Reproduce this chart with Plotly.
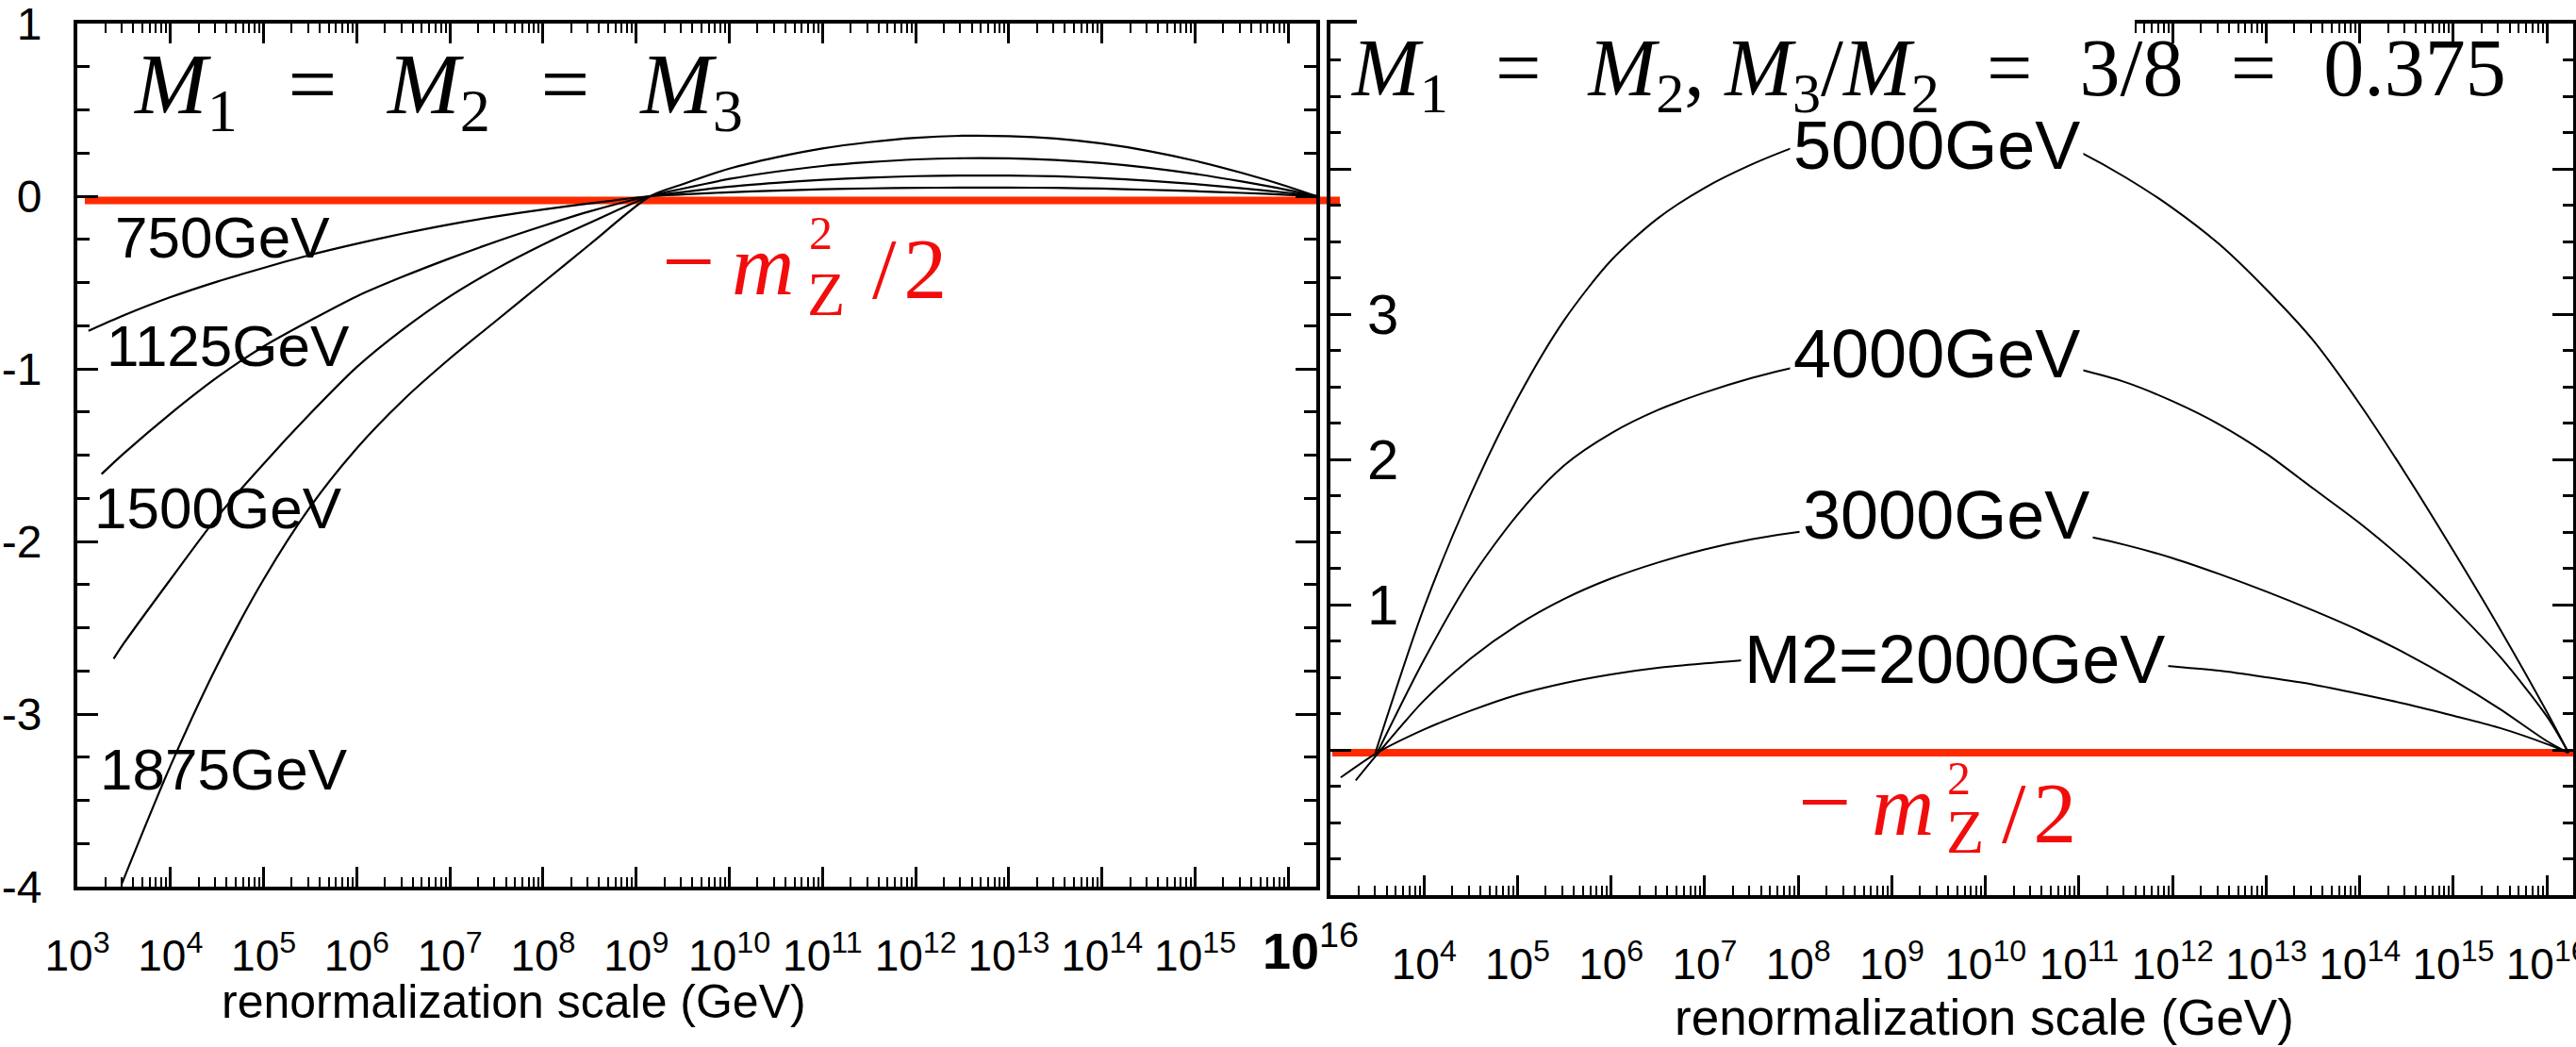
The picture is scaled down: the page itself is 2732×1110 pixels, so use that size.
import plotly.graph_objects as go

W, H = 2732, 1110

# ---------------- data ----------------
# Left panel: M1 = M2 = M3. x = log10(Q / GeV), y = running parameter
left_names = ["750GeV", "1125GeV", "1500GeV", "1875GeV"]

logq_750 = [3.12, 3.5, 4.0, 4.5, 5.0, 5.5, 6.0, 6.5, 7.0, 7.5, 8.0, 8.5, 9.15,
            9.5, 10.0, 10.5, 11.0, 11.5, 12.0, 12.5, 13.0, 13.5, 14.0, 14.5, 15.0, 15.5, 16.0, 16.3]
val_750 = [-0.78, -0.69, -0.585, -0.495, -0.415, -0.34, -0.275, -0.216, -0.163, -0.117, -0.077, -0.042, 0.0,
           0.010, 0.023, 0.032, 0.040, 0.045, 0.048, 0.050, 0.050, 0.048, 0.044, 0.037, 0.029, 0.019, 0.008, 0.0]

logq_1125 = [3.26, 3.5, 4.0, 4.5, 5.0, 5.5, 6.0, 6.5, 7.0, 7.5, 8.0, 8.5, 9.15,
             9.5, 10.0, 10.5, 11.0, 11.5, 12.0, 12.5, 13.0, 13.5, 14.0, 14.5, 15.0, 15.5, 16.0, 16.3]
val_1125 = [-1.61, -1.49, -1.26, -1.05, -0.87, -0.72, -0.58, -0.465, -0.36, -0.262, -0.172, -0.088, 0.0,
            0.024, 0.055, 0.077, 0.095, 0.107, 0.116, 0.120, 0.119, 0.115, 0.105, 0.090, 0.070, 0.046, 0.019, 0.0]

logq_1500 = [3.39, 3.5, 4.0, 4.5, 5.0, 5.5, 6.0, 6.5, 7.0, 7.5, 8.0, 8.5, 9.15,
             9.5, 10.0, 10.5, 11.0, 11.5, 12.0, 12.5, 13.0, 13.5, 14.0, 14.5, 15.0, 15.5, 16.0, 16.3]
val_1500 = [-2.68, -2.59, -2.22, -1.86, -1.55, -1.26, -0.99, -0.77, -0.58, -0.42, -0.28, -0.155, 0.0,
            0.044, 0.100, 0.142, 0.175, 0.197, 0.213, 0.220, 0.219, 0.210, 0.192, 0.165, 0.129, 0.085, 0.035, 0.0]

logq_1875 = [3.48, 4.0, 4.5, 5.0, 5.5, 6.0, 6.5, 7.0, 7.5, 8.0, 8.5, 9.15,
             9.5, 10.0, 10.5, 11.0, 11.5, 12.0, 12.5, 13.0, 13.5, 14.0, 14.5, 15.0, 15.5, 16.0, 16.3]
val_1875 = [-3.98, -3.30, -2.72, -2.22, -1.80, -1.46, -1.18, -0.94, -0.72, -0.50, -0.28, 0.0,
            0.070, 0.160, 0.225, 0.277, 0.313, 0.338, 0.350, 0.348, 0.334, 0.305, 0.262, 0.205, 0.135, 0.055, 0.0]

# Right panel: M1 = M2, M3/M2 = 0.375
right_names = ["M2=2000GeV", "3000GeV", "4000GeV", "5000GeV"]

logq_2000 = [3.11, 3.5, 4.0, 4.5, 5.0, 5.5, 6.0, 6.5, 7.0, 7.5, 8.0, 8.5, 9.0, 9.5, 10.0,
             10.5, 11.0, 11.5, 12.0, 12.5, 13.0, 13.5, 14.0, 14.5, 15.0, 15.5, 16.0, 16.23]
val_2000 = [-0.19, -0.02, 0.14, 0.27, 0.38, 0.46, 0.52, 0.565, 0.595, 0.62, 0.635, 0.645, 0.65, 0.65, 0.645,
            0.635, 0.62, 0.60, 0.575, 0.545, 0.50, 0.45, 0.385, 0.315, 0.235, 0.15, 0.04, -0.02]

logq_3000 = [3.27, 3.5, 4.0, 4.5, 5.0, 5.5, 6.0, 6.5, 7.0, 7.5, 8.0, 8.5, 9.0, 9.5, 10.0,
             10.5, 11.0, 11.5, 12.0, 12.5, 13.0, 13.5, 14.0, 14.5, 15.0, 15.5, 16.0, 16.23]
val_3000 = [-0.21, -0.03, 0.34, 0.63, 0.86, 1.04, 1.18, 1.29, 1.38, 1.45, 1.50, 1.53, 1.55, 1.555, 1.55,
            1.52, 1.48, 1.41, 1.32, 1.21, 1.09, 0.96, 0.82, 0.66, 0.48, 0.28, 0.06, -0.02]

logq_4000 = [3.5, 4.0, 4.5, 5.0, 5.5, 6.0, 6.5, 7.0, 7.5, 8.0, 8.5, 9.0, 9.5, 10.0,
             10.5, 11.0, 11.5, 12.0, 12.5, 13.0, 13.5, 14.0, 14.5, 15.0, 15.5, 16.0, 16.23]
val_4000 = [-0.02, 0.62, 1.18, 1.62, 1.96, 2.18, 2.34, 2.46, 2.56, 2.64, 2.70, 2.74, 2.75, 2.73,
            2.69, 2.62, 2.53, 2.40, 2.24, 2.04, 1.80, 1.56, 1.29, 0.98, 0.64, 0.23, -0.02]

logq_5000 = [3.48, 4.0, 4.5, 5.0, 5.5, 6.0, 6.5, 7.0, 7.5, 8.0, 8.5, 9.0, 9.5, 10.0,
             10.5, 11.0, 11.5, 12.0, 12.5, 13.0, 13.5, 14.0, 14.5, 15.0, 15.5, 16.0, 16.23]
val_5000 = [-0.02, 0.98, 1.76, 2.42, 2.96, 3.37, 3.66, 3.87, 4.03, 4.16, 4.27, 4.36, 4.41, 4.38,
            4.27, 4.12, 3.94, 3.73, 3.48, 3.17, 2.82, 2.38, 1.89, 1.37, 0.83, 0.26, -0.02]

# -m_Z^2/2 reference level
mz_level_left = -0.025
mz_level_right = -0.02

# tick labels
decades = list(range(3, 17))
left_xtick_text = [f"10<sup>{k}</sup>" for k in range(3, 16)] + [""]
right_xtick_text = [""] + [f"10<sup>{k}</sup>" for k in range(4, 17)]
left_yticks = [-4, -3, -2, -1, 0, 1]
left_ytick_text = ["-4", "-3", "-2", "-1", "0", "1"]
right_yticks = [-1, 0, 1, 2, 3, 4, 5]
right_ytick_text = ["", "", "1", "2", "3", "", ""]

# ---------------- helpers ----------------
def fx(p):
    return p / W


def fy(p):
    return 1 - p / H


SANS = "Liberation Sans, Arial, sans-serif"
SERIF = "Liberation Serif, Times New Roman, serif"
RED_LINE = "#ff2a00"
RED_TEXT = "#f20d0d"

fig = go.Figure()

left_sets = [(logq_750, val_750), (logq_1125, val_1125), (logq_1500, val_1500), (logq_1875, val_1875)]
for name, (lq, v) in zip(left_names, left_sets):
    fig.add_trace(go.Scatter(
        x=[10 ** q for q in lq], y=v, mode="lines", name=name,
        line=dict(color="black", width=2.2, shape="spline", smoothing=0.8),
        xaxis="x", yaxis="y", showlegend=False, hoverinfo="skip"))

right_sets = [(logq_2000, val_2000), (logq_3000, val_3000), (logq_4000, val_4000), (logq_5000, val_5000)]
for name, (lq, v) in zip(right_names, right_sets):
    fig.add_trace(go.Scatter(
        x=[10 ** q for q in lq], y=v, mode="lines", name=name,
        line=dict(color="black", width=2.0, shape="spline", smoothing=0.8),
        xaxis="x2", yaxis="y2", showlegend=False, hoverinfo="skip"))

# minor ticks at 2..9 x 10^n
minor_vals = [m * 10 ** n for n in range(3, 17) for m in range(2, 10)]

common_axis = dict(showline=True, linewidth=4, linecolor="black", mirror="allticks",
                   ticks="inside", tickcolor="black", tickwidth=3, showgrid=False,
                   zeroline=False, automargin=False, ticklabeloverflow="allow")

xaxis_common = dict(common_axis, type="log", tickvals=[10 ** k for k in decades], ticklen=21,
                    tickfont=dict(family=SANS, size=46, color="black"),
                    minor=dict(tickvals=minor_vals, ticks="inside", ticklen=10, tickwidth=2,
                               tickcolor="black", showgrid=False),
                    ticklabelstandoff=30)

fig.update_layout(
    template="none",
    width=W, height=H,
    margin=dict(l=0, r=0, t=0, b=0, pad=0),
    paper_bgcolor="white", plot_bgcolor="white",
    xaxis=dict(xaxis_common, domain=[fx(82), fx(1396)], range=[3, 16.3],
               ticktext=left_xtick_text, anchor="y"),
    yaxis=dict(common_axis, domain=[fy(940), fy(25)], range=[-4, 1], anchor="x",
               tickvals=left_yticks, ticktext=left_ytick_text, ticklen=22,
               tickfont=dict(family=SANS, size=48, color="black"),
               minor=dict(dtick=0.25, ticks="inside", ticklen=13, tickwidth=2.5,
                          tickcolor="black", showgrid=False),
               ticklabelstandoff=24),
    xaxis2=dict(xaxis_common, domain=[fx(1411), fx(2729)], range=[3, 16.28],
                ticktext=right_xtick_text, anchor="y2"),
    yaxis2=dict(common_axis, domain=[fy(949), fy(25)], range=[-1, 5], anchor="x2",
                tickvals=right_yticks, ticktext=right_ytick_text, ticklen=22,
                ticklabelposition="inside",
                tickfont=dict(family=SANS, size=60, color="black"),
                minor=dict(dtick=0.25, ticks="inside", ticklen=11, tickwidth=2.5,
                           tickcolor="black", showgrid=False),
                ticklabelstandoff=26),
)

# -m_Z^2/2 reference lines
fig.add_shape(type="line", xref="paper", yref="y", x0=fx(90), x1=fx(1421),
              y0=mz_level_left, y1=mz_level_left, line=dict(color=RED_LINE, width=8),
              layer="below")
fig.add_shape(type="line", xref="paper", yref="y2", x0=fx(1413), x1=1.0,
              y0=mz_level_right, y1=mz_level_right, line=dict(color=RED_LINE, width=8),
              layer="below")

# white box behind the right-hand heading
fig.add_shape(type="rect", xref="paper", yref="paper", x0=fx(1439), x1=fx(2264),
              y0=fy(58), y1=fy(8), fillcolor="white", line=dict(width=0), layer="above")


def note(text, x, y, size, family, color="black", xanchor="center", yanchor="middle", **kw):
    fig.add_annotation(text=text, x=fx(x), y=fy(y), xref="paper", yref="paper",
                       showarrow=False, xanchor=xanchor, yanchor=yanchor,
                       font=dict(family=family, size=size, color=color), **kw)


# curve labels, left panel
for name, (x, y) in zip(left_names, [(236, 251), (242, 367), (231, 539), (237, 815)]):
    note(name, x, y, 62, SANS)

# curve labels, right panel (white background breaks the curve)
for name, (x, y) in zip(right_names, [(2073, 699), (2064, 546), (2054, 375), (2054, 154)]):
    note(name, x, y, 72, SANS, bgcolor="white", borderpad=3)

# -m_Z^2/2 labels
red_parts_left = dict(minus=(730, 277), m=(809, 281), sup=(870, 247), sub=(876, 311), tail=(964, 285))
red_parts_right = dict(minus=(1935, 850), m=(2018, 854), sup=(2077, 825), sub=(2084, 881), tail=(2162, 862))
for parts in (red_parts_left, red_parts_right):
    note("\u2212", *parts["minus"], 100, SERIF, color=RED_TEXT)
    note("<i>m</i>", *parts["m"], 92, SERIF, color=RED_TEXT)
    note("2", *parts["sup"], 50, SERIF, color=RED_TEXT)
    note("Z", *parts["sub"], 66, SERIF, color=RED_TEXT)
    note("/\u200a2", *parts["tail"], 92, SERIF, color=RED_TEXT)

# axis titles
note("renormalization scale (GeV)", 545, 1062, 50, SANS)
note("renormalization scale (GeV)", 2104, 1078, 53, SANS)

# end-of-axis label between the panels
note("<b>10</b><sup>16</sup>", 1390, 1004, 54, SANS)

# headings (drawn last so they sit on top)
EQ = "\u2002\u200a=\u200a\u2002"
note(f"<i>M</i><sub>1</sub>{EQ}<i>M</i><sub>2</sub>{EQ}<i>M</i><sub>3</sub>",
     139, 95, 92, SERIF, xanchor="left")
note(f"<i>M</i><sub>1</sub>{EQ}<i>M</i><sub>2</sub>, <i>M</i><sub>3</sub>/<i>M</i><sub>2</sub>"
     f"{EQ}3/8{EQ}0.375",
     1430, 78, 86, SERIF, xanchor="left")

fig.write_html("out.html")
